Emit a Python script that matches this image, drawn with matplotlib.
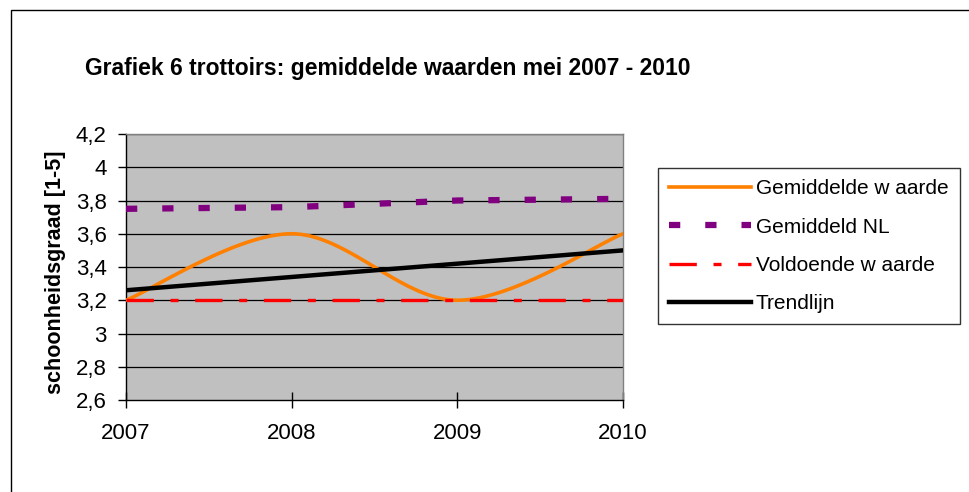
import numpy as np
import matplotlib
matplotlib.use("Agg")
import matplotlib.pyplot as plt
from matplotlib.patches import Rectangle

plt.rcParams['font.family'] = ['Liberation Sans', 'DejaVu Sans']

years = [2007, 2008, 2009, 2010]
gemiddelde_waarde = [3.2, 3.6, 3.2, 3.6]
gemiddeld_nl = [3.75, 3.76, 3.80, 3.81]
voldoende_waarde = [3.2, 3.2, 3.2, 3.2]
trendlijn = [3.26, 3.34, 3.42, 3.50]
y_ticks = [2.6, 2.8, 3.0, 3.2, 3.4, 3.6, 3.8, 4.0, 4.2]
y_ticklabels = ["2,6", "2,8", "3", "3,2", "3,4", "3,6", "3,8", "4", "4,2"]
title = "Grafiek 6 trottoirs: gemiddelde waarden mei 2007 - 2010"
ylabel = "schoonheidsgraad [1-5]"
labels = ["Gemiddelde w aarde", "Gemiddeld NL", "Voldoende w aarde", "Trendlijn"]


def smooth(xs, ys, n=40):
    # Excel-style smoothed line (Bezier through points)
    P = np.column_stack([xs, ys]).astype(float)
    m = len(P)
    out = []
    for i in range(m - 1):
        p0 = P[max(i - 1, 0)]
        p1 = P[i]
        p2 = P[i + 1]
        p3 = P[min(i + 2, m - 1)]
        c1 = p1 + (p2 - p0) / 6.0
        c2 = p2 - (p3 - p1) / 6.0
        t = np.linspace(0, 1, n)[:, None]
        seg = ((1 - t) ** 3) * p1 + 3 * ((1 - t) ** 2) * t * c1 + 3 * (1 - t) * t ** 2 * c2 + t ** 3 * p2
        out.append(seg if i == 0 else seg[1:])
    out = np.vstack(out)
    return out[:, 0], out[:, 1]


fig = plt.figure(figsize=(9.69, 4.92), dpi=100)
fig.patches.append(Rectangle((10.5 / 969, -0.1), 1.2, 1 - 9.5 / 492 + 0.1,
                             transform=fig.transFigure, fill=False,
                             edgecolor='black', linewidth=1.0))

ax = fig.add_axes([126 / 969, 1 - 400 / 492, (623 - 126) / 969, (400 - 134) / 492])
ax.set_facecolor('#C0C0C0')
ax.set_xlim(2007, 2010)
ax.set_ylim(2.6, 4.2)

for v in y_ticks[1:]:
    ax.axhline(v, color='black', linewidth=0.9, zorder=1)

sx, sy = smooth(years, gemiddelde_waarde)
l1, = ax.plot(sx, sy, color='#FF8000', linewidth=2.6, zorder=3)
l2, = ax.plot(years, gemiddeld_nl, color='#800080', linewidth=4.5,
              dashes=(1.8, 4.0), zorder=3)
l3, = ax.plot(years, voldoende_waarde, color='#FF0000', linewidth=2.4,
              dashes=(8.2, 5.0, 2.4, 5.0), zorder=3)
l4, = ax.plot(years, trendlijn, color='black', linewidth=3.2, zorder=4)

for s in ['top', 'right']:
    ax.spines[s].set_color('#808080')
for s in ['left', 'bottom']:
    ax.spines[s].set_color('black')
for s in ax.spines.values():
    s.set_linewidth(1.0)

ax.set_yticks(y_ticks)
ax.set_yticklabels(y_ticklabels)
ax.set_xticks(years)
ax.set_xticklabels([str(y) for y in years])
ax.tick_params(axis='y', direction='out', length=6, width=1, pad=8, labelsize=16)
ax.tick_params(axis='x', direction='inout', length=11, width=1, pad=11, labelsize=16)

fig.text(55 / 969, 1 - 272 / 492, ylabel, rotation=90, ha='center', va='center',
         fontsize=15.5, fontweight='bold')
fig.text(388 / 969, 1 - 68 / 492, title, ha='center', va='center',
         fontsize=16.5, fontweight='bold')

leg = fig.legend([l1, l2, l3, l4], labels, loc='upper left',
                 bbox_to_anchor=(658 / 969, 1 - 168 / 492), fontsize=15,
                 frameon=True, fancybox=False, shadow=False,
                 handlelength=3.9, handletextpad=0.25, labelspacing=0.92,
                 borderpad=0.55, borderaxespad=0.0)
leg.get_frame().set_edgecolor('black')
leg.get_frame().set_linewidth(1.0)

fig.savefig("out.png", dpi=100, facecolor='white')
